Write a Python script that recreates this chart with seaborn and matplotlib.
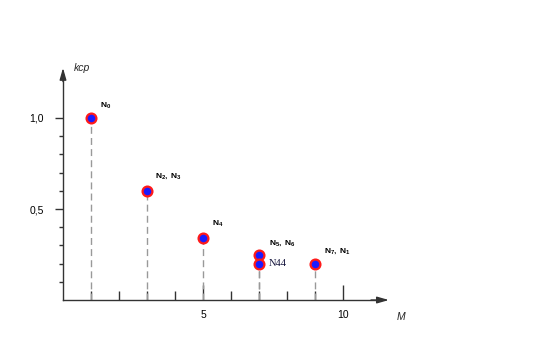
import matplotlib
matplotlib.use("Agg")
import matplotlib.pyplot as plt
import seaborn as sns
import pandas as pd
from matplotlib.ticker import FixedLocator, FuncFormatter

# ---- data ----
m_values = [1, 3, 5, 7, 7, 9]
k_values = [1.0, 0.6, 0.34, 0.25, 0.2, 0.2]
point_labels = [r"$\mathbf{N_0}$", r"$\mathbf{N_2,\ N_3}$", r"$\mathbf{N_4}$",
                r"$\mathbf{N_5,\ N_6}$", "N44", r"$\mathbf{N_7,\ N_1}$"]
label_offsets = [(9, 12), (8, 14), (9, 14), (10, 11), (10, 0), (9, 12)]
x_major = [5, 10]
x_minor = [1, 2, 3, 4, 6, 7, 8, 9]
y_major = [0.5, 1.0]
y_minor = [0.1, 0.2, 0.3, 0.4, 0.6, 0.7, 0.8, 0.9]

sns.set_style("white")
plt.rcParams["font.family"] = ["Liberation Sans", "DejaVu Sans"]
plt.rcParams["mathtext.fontset"] = "custom"
plt.rcParams["mathtext.rm"] = "Liberation Sans"
plt.rcParams["mathtext.bf"] = "Liberation Sans:bold"
plt.rcParams["mathtext.it"] = "Liberation Sans:italic"

df = pd.DataFrame({"M": m_values, "k": k_values})

fig = plt.figure(figsize=(5.35, 3.47), dpi=100)
ax = fig.add_axes([0, 0, 1, 1])
ax.set_facecolor("white")
ax.set_xlim(-2.25, 16.857)
ax.set_ylim(-0.258, 1.648)

# dashed drop lines
ax.vlines(df["M"], 0, df["k"], colors="#999999", linestyles=(0, (5, 3)), linewidth=1.0, zorder=2)

sns.scatterplot(data=df, x="M", y="k", ax=ax, s=50, color="#1a1aff",
                edgecolor="#ff1a1a", linewidth=1.6, zorder=4, legend=False)

for (x, y, lab, off) in zip(m_values, k_values, point_labels, label_offsets):
    if lab == "N44":
        ax.annotate(lab, (x, y), xytext=off, textcoords="offset pixels",
                    fontsize=7.5, family="Liberation Serif", color="#14143c",
                    ha="left", va="center")
    else:
        ax.annotate(lab, (x, y), xytext=off, textcoords="offset pixels",
                    fontsize=6, color="black", ha="left", va="center")

# axes as spines through origin
for s in ["top", "right"]:
    ax.spines[s].set_visible(False)
ax.spines["left"].set_position(("data", 0))
ax.spines["bottom"].set_position(("data", 0))
ax.spines["left"].set_bounds(0, 1.24)
ax.spines["bottom"].set_bounds(0, 11.3)
for s in ["left", "bottom"]:
    ax.spines[s].set_color("#333333")
    ax.spines[s].set_linewidth(1.0)

ax.annotate("", xy=(11.64, 0), xytext=(11.0, 0),
            arrowprops=dict(arrowstyle="-|>,head_length=0.7,head_width=0.2",
                            color="#333333", lw=1.0, shrinkA=0, shrinkB=0))
ax.annotate("", xy=(0, 1.275), xytext=(0, 1.2),
            arrowprops=dict(arrowstyle="-|>,head_length=0.7,head_width=0.2",
                            color="#333333", lw=1.0, shrinkA=0, shrinkB=0))

ax.xaxis.set_major_locator(FixedLocator(x_major))
ax.xaxis.set_minor_locator(FixedLocator(x_minor))
ax.yaxis.set_major_locator(FixedLocator(y_major))
ax.yaxis.set_minor_locator(FixedLocator(y_minor))
ax.xaxis.set_major_formatter(FuncFormatter(lambda v, p: f"{int(v)}"))
ax.yaxis.set_major_formatter(FuncFormatter(lambda v, p: f"{v:.1f}".replace(".", ",")))

ax.tick_params(axis="x", which="major", direction="in", length=10.8, width=1.0,
               color="#333333", labelsize=7.5, labelcolor="black", pad=7.5)
ax.tick_params(axis="x", which="minor", direction="in", length=6.5, width=1.0,
               color="#333333")
ax.tick_params(axis="y", which="major", direction="out", length=5.8, width=1.0,
               color="#333333", labelsize=7.5, labelcolor="black", pad=8)
ax.tick_params(axis="y", which="minor", direction="out", length=2.9, width=1.0,
               color="#333333")
ax.tick_params(which="both", bottom=True, left=True)

ax.set_xlabel("")
ax.set_ylabel("")
ax.text(0.39, 1.272, "kcp", style="italic", fontsize=7.5, ha="left", va="center")
ax.text(11.9, -0.093, "M", style="italic", fontsize=7.5, ha="left", va="center")

fig.savefig("out.png", dpi=100, facecolor="white")
